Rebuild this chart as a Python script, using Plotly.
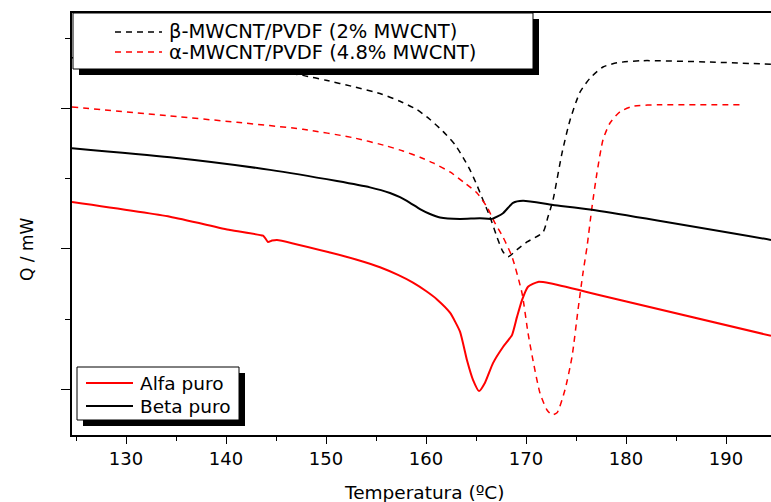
import plotly.graph_objects as go

# ---------------- data (temperature in degC, heat flow in arbitrary mW units) ----------------
beta_mwcnt_T = [124.6, 137.4, 146.4, 147.7, 150.0, 152.7, 155.4, 157.4, 159.1, 160.4, 161.7, 162.9, 163.7,
                164.4, 165.1, 165.7, 166.4, 167.1, 167.7, 168.2, 169.1, 170.1, 171.7, 172.2, 172.7,
                173.6, 174.4, 175.4, 176.4, 177.7, 179.1, 181.7, 188.4, 194.5]
beta_mwcnt_Q = [4.73, 4.61, 4.51, 4.48, 4.41, 4.32, 4.22, 4.11, 3.99, 3.85, 3.68, 3.49, 3.31,
                3.13, 2.91, 2.70, 2.46, 2.17, 1.96, 1.89, 1.99, 2.10, 2.24, 2.46, 2.70,
                3.37, 3.84, 4.24, 4.44, 4.60, 4.66, 4.69, 4.67, 4.64]

alfa_mwcnt_T = [124.6, 134.4, 141.1, 147.7, 152.7, 156.1, 157.7, 159.4, 160.7, 162.4, 163.9, 165.1,
                166.1, 166.9, 167.7, 168.6, 169.6, 170.2, 170.7, 171.4, 172.1, 172.6, 173.1, 173.9,
                174.6, 175.2, 175.7, 176.1, 176.6, 177.1, 177.7, 178.4, 179.4, 180.7, 183.4, 191.4]
alfa_mwcnt_Q = [4.03, 3.90, 3.81, 3.71, 3.59, 3.47, 3.40, 3.31, 3.23, 3.10, 2.94, 2.80,
                2.60, 2.37, 2.17, 1.89, 1.37, 0.80, 0.41, -0.06, -0.30, -0.37, -0.34, -0.01,
                0.46, 1.13, 1.66, 2.03, 2.60, 3.09, 3.56, 3.80, 3.96, 4.04, 4.06, 4.06]

beta_puro_T = [124.6, 134.4, 144.4, 151.1, 154.4, 156.4, 157.4, 158.4, 159.4, 160.4, 161.4, 163.4,
               165.4, 166.6, 167.7, 168.7, 169.7, 172.7, 176.6, 194.5]
beta_puro_Q = [3.44, 3.31, 3.13, 2.97, 2.88, 2.80, 2.74, 2.66, 2.57, 2.50, 2.45, 2.43,
               2.44, 2.43, 2.51, 2.66, 2.69, 2.63, 2.56, 2.13]

alfa_puro_T = [124.6, 134.4, 140.4, 143.7, 143.9, 144.2, 144.6, 145.1, 150.4, 153.0, 155.4, 157.2,
               158.7, 160.0, 161.1, 162.4, 163.4, 164.1, 164.7, 165.3, 165.9, 166.7, 167.7, 168.6,
               169.1, 169.6, 170.2, 171.2, 172.4, 177.4, 194.5]
alfa_puro_Q = [2.67, 2.46, 2.27, 2.19, 2.16, 2.10, 2.12, 2.13, 1.95, 1.85, 1.74, 1.63,
               1.52, 1.40, 1.28, 1.09, 0.82, 0.41, 0.13, -0.03, 0.09, 0.37, 0.60, 0.77,
               1.03, 1.27, 1.46, 1.53, 1.51, 1.34, 0.76]

legend_top_labels = ["\u03b2-MWCNT/PVDF (2% MWCNT)", "\u03b1-MWCNT/PVDF (4.8% MWCNT)"]
legend_bottom_labels = ["Alfa puro", "Beta puro"]
x_ticks = [130, 140, 150, 160, 170, 180, 190]

# ---------------- figure ----------------
W, H = 771, 502
ML, MR, MT, MB = 72, 0, 13, 67
PW, PH = W - ML - MR, H - MT - MB
FONT = "DejaVu Sans"

def px(xp):
    return (xp - ML) / PW

def py(yp):
    return (H - MB - yp) / PH

fig = go.Figure()
dash = "6px,5px"
fig.add_trace(go.Scatter(x=beta_mwcnt_T, y=beta_mwcnt_Q, mode="lines",
                         line=dict(color="black", width=1.5, dash=dash, shape="spline", smoothing=0.6)))
fig.add_trace(go.Scatter(x=alfa_mwcnt_T, y=alfa_mwcnt_Q, mode="lines",
                         line=dict(color="red", width=1.5, dash=dash, shape="spline", smoothing=0.6)))
fig.add_trace(go.Scatter(x=beta_puro_T, y=beta_puro_Q, mode="lines",
                         line=dict(color="black", width=2, shape="spline", smoothing=0.6)))
fig.add_trace(go.Scatter(x=alfa_puro_T, y=alfa_puro_Q, mode="lines",
                         line=dict(color="red", width=2, shape="spline", smoothing=0.5)))

shapes = []
annotations = []

# top legend (custom box with drop shadow)
shapes.append(dict(type="rect", xref="paper", yref="paper", x0=px(79), x1=px(539), y0=py(75), y1=py(19),
                   fillcolor="black", line=dict(width=0), layer="above"))
shapes.append(dict(type="rect", xref="paper", yref="paper", x0=px(73), x1=px(533), y0=py(69), y1=py(13),
                   fillcolor="white", line=dict(color="black", width=1), layer="above"))
for i, (lab, col) in enumerate(zip(legend_top_labels, ["black", "red"])):
    yy = [32, 52][i]
    shapes.append(dict(type="line", xref="paper", yref="paper", x0=px(115), x1=px(162), y0=py(yy), y1=py(yy),
                       line=dict(color=col, width=1.5, dash=dash), layer="above"))
    annotations.append(dict(xref="paper", yref="paper", x=px(167), y=py(yy), text=lab, showarrow=False,
                            xanchor="left", yanchor="middle", font=dict(family=FONT, size=19.5, color="black")))

# bottom legend
shapes.append(dict(type="rect", xref="paper", yref="paper", x0=px(83), x1=px(245), y0=py(426), y1=py(373),
                   fillcolor="black", line=dict(width=0), layer="above"))
shapes.append(dict(type="rect", xref="paper", yref="paper", x0=px(77), x1=px(239), y0=py(420), y1=py(367),
                   fillcolor="white", line=dict(color="black", width=1), layer="above"))
for i, (lab, col) in enumerate(zip(legend_bottom_labels, ["red", "black"])):
    yy = [383, 406][i]
    shapes.append(dict(type="line", xref="paper", yref="paper", x0=px(86), x1=px(133), y0=py(yy), y1=py(yy),
                       line=dict(color=col, width=2), layer="above"))
    annotations.append(dict(xref="paper", yref="paper", x=px(138), y=py(yy), text=lab, showarrow=False,
                            xanchor="left", yanchor="middle", font=dict(family=FONT, size=18.5, color="black")))

# axis titles
annotations.append(dict(xref="paper", yref="paper", x=px(27), y=py(250), text="Q / mW", showarrow=False,
                        textangle=-90, xanchor="center", yanchor="middle",
                        font=dict(family=FONT, size=17, color="black")))
annotations.append(dict(xref="paper", yref="paper", x=px(425), y=py(492), text="Temperatura (\u00baC)",
                        showarrow=False, xanchor="center", yanchor="middle",
                        font=dict(family=FONT, size=18.5, color="black")))

fig.update_layout(
    width=W, height=H,
    margin=dict(l=ML, r=MR, t=MT, b=MB, pad=0),
    paper_bgcolor="white", plot_bgcolor="white",
    showlegend=False,
    shapes=shapes, annotations=annotations,
    font=dict(family=FONT, size=18, color="black"),
)
fig.update_xaxes(range=[124.6, 194.5], tickvals=x_ticks, ticks="outside", ticklen=7, tickwidth=1,
                 tickcolor="black", showline=True, linecolor="black", linewidth=1.5, mirror=True,
                 showgrid=False, zeroline=False, tickfont=dict(family=FONT, size=18, color="black"),
                 minor=dict(dtick=5, tick0=125, ticks="outside", ticklen=4, tickcolor="black", showgrid=False))
fig.update_yaxes(range=[-0.657, 5.371], dtick=2, tick0=0, ticks="outside", ticklen=9, tickwidth=1,
                 tickcolor="black", showline=True, linecolor="black", linewidth=1.5, mirror=False,
                 showgrid=False, zeroline=False, showticklabels=False,
                 minor=dict(dtick=1, tick0=0, ticks="outside", ticklen=5, tickcolor="black", showgrid=False))

fig.write_html("out.html")
